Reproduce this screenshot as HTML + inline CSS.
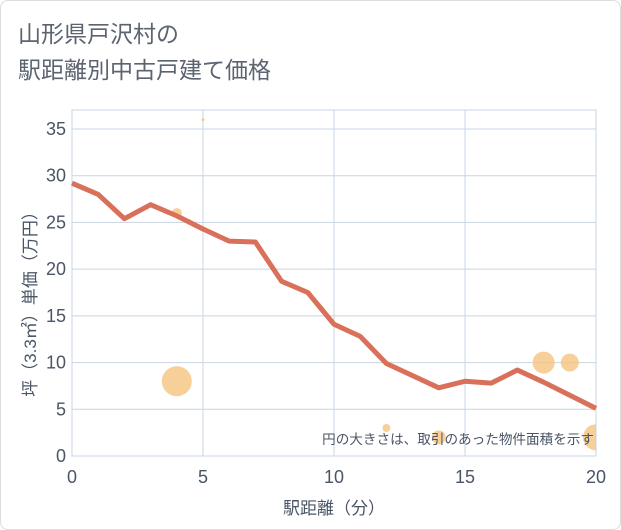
<!DOCTYPE html>
<html><head><meta charset="utf-8"><style>
body{margin:0;width:621px;height:530px;background:#fff;font-family:"Liberation Sans","Noto Sans CJK JP",sans-serif;}
#frame{position:absolute;left:0;top:0;width:619px;height:528px;border:1px solid #ddd;border-radius:8px;background:#fff;}
</style></head><body>
<div id="frame"></div>
<svg width="621" height="530" style="position:absolute;left:0;top:0" font-family="Liberation Sans, Noto Sans CJK JP, sans-serif">
<defs><clipPath id="pc"><rect x="72" y="110" width="524" height="346"/></clipPath></defs>
<text x="18" y="42" font-size="23" fill="#5c6470">山形県戸沢村の</text>
<text x="18" y="78" font-size="23" fill="#5c6470">駅距離別中古戸建て価格</text>
<g id="grid"></g><g id="bubbles" clip-path="url(#pc)"></g><g id="line"></g><g id="axes"></g>
<text x="594" y="444" font-size="13.6" fill="#4a5566" text-anchor="end">円の大きさは、取引のあった物件面積を示す</text>
<text x="334" y="514" font-size="17" fill="#4a5566" text-anchor="middle">駅距離（分）</text>
<text transform="translate(36,300) rotate(-90)" font-size="17" fill="#4a5566" text-anchor="middle">坪（3.3㎡）単価（万円）</text>
</svg>
<script>
const xTicks=[0,5,10,15,20];
const yTicks=[0,5,10,15,20,25,30,35];
const lineX=[0,1,2,3,4,5,6,7,8,9,10,11,12,13,14,15,16,17,18,19,20];
const lineY=[29.2,28,25.4,26.9,25.7,24.3,23,22.9,18.7,17.5,14.1,12.8,9.9,8.6,7.3,8,7.8,9.2,7.9,6.5,5.1];
const bubbleX=[4,4,5,12,14,18,19,20];
const bubbleY=[8,26,36,3,2,10,10,2];
const bubbleR=[15,5,1.5,4,7,11,9,13];
const X0=72,X1=596,Y0=456,Ytop=110;
const sx=v=>X0+(X1-X0)*v/20, sy=v=>Y0-v*(456-129)/35;
const NS="http://www.w3.org/2000/svg";
function mk(t,a,p){const e=document.createElementNS(NS,t);for(const k in a)e.setAttribute(k,a[k]);p.appendChild(e);return e;}
const g=document.getElementById('grid');
const bg=mk('rect',{x:X0,y:Ytop,width:X1-X0,height:Y0-Ytop,fill:'#fff',stroke:'#c8d4e3'},g);


const ax=document.getElementById('axes');
xTicks.forEach(v=>{const l=mk('line',{x1:sx(v),x2:sx(v),y1:Ytop,y2:Y0,stroke:'#c8d4e3'},g);


const t=mk('text',{x:sx(v),y:483,'font-size':18,fill:'#4a5566','text-anchor':'middle'},ax);t.textContent=v;

});
yTicks.forEach(v=>{const l=mk('line',{x1:X0,x2:X1,y1:sy(v),y2:sy(v),stroke:'#c8d4e3'},g);


const t=mk('text',{x:66,y:sy(v)+6,'font-size':18,fill:'#4a5566','text-anchor':'end'},ax);t.textContent=v;

});
const b=document.getElementById('bubbles');
bubbleX.forEach((v,i)=>{const c=mk('circle',{cx:sx(v),cy:sy(bubbleY[i]),r:bubbleR[i],fill:'#f5c47f','fill-opacity':0.8},b);

});
const p=mk('polyline',{points:lineX.map((v,i)=>sx(v)+','+sy(lineY[i])).join(' '),fill:'none',stroke:'#d9705a','stroke-width':5,'stroke-linejoin':'round'},document.getElementById('line'));


</script>
</body></html>
